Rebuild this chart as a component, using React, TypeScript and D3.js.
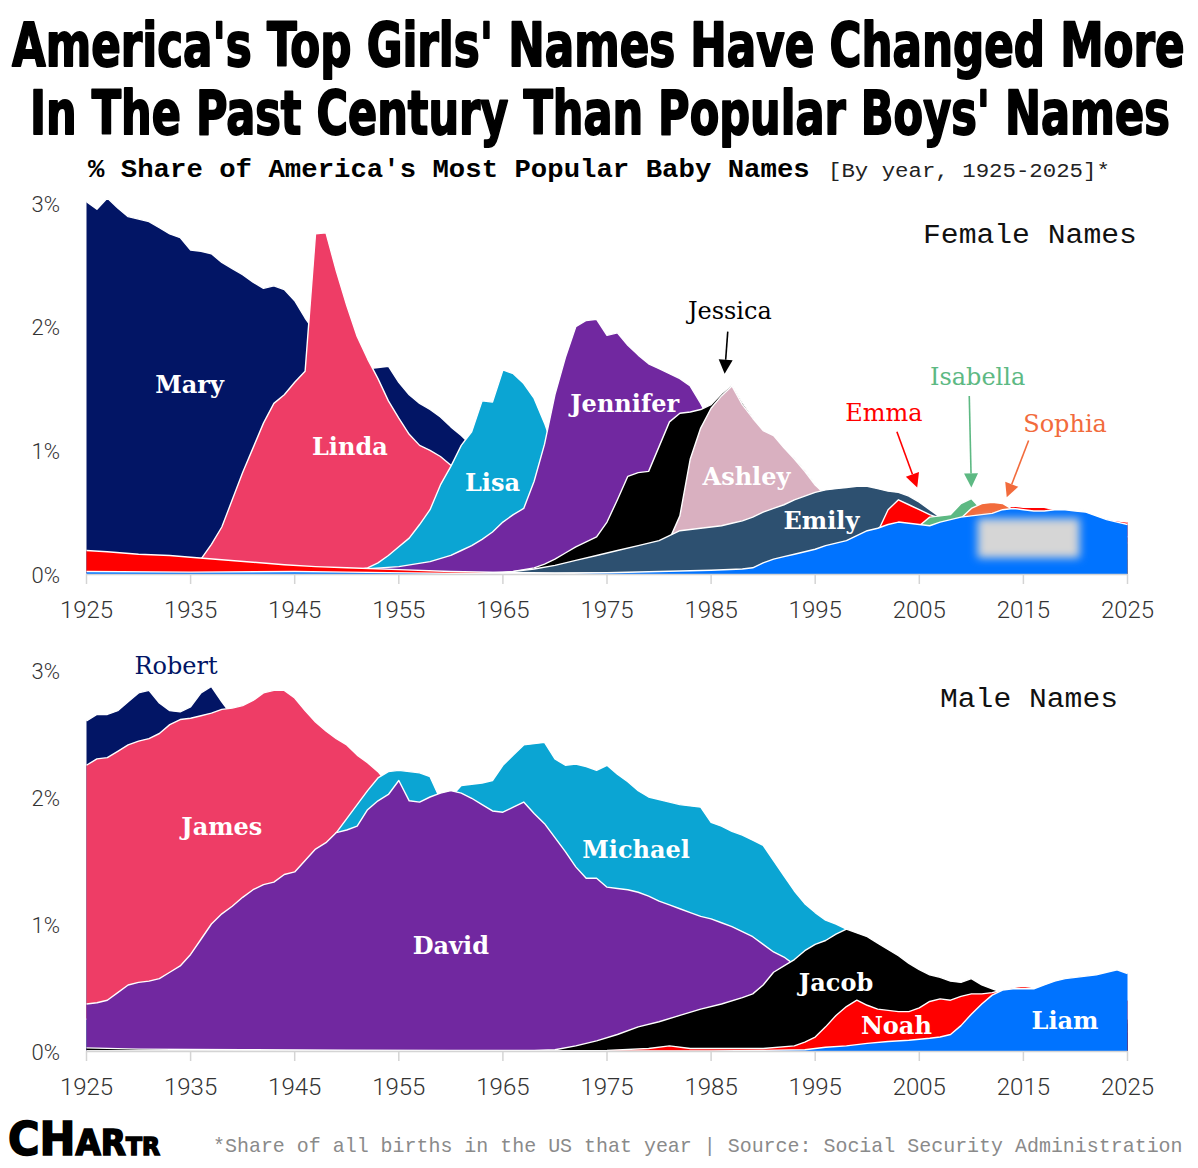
import * as d3 from 'd3';
import React, { useEffect, useRef } from 'react';

type Pt = [number, number];

// ---- axis ticks / text ----
const decades = [1925, 1935, 1945, 1955, 1965, 1975, 1985, 1995, 2005, 2015, 2025];
const pctTicks = [0, 1, 2, 3];
const titleLines = [
  "America's Top Girls' Names Have Changed More",
  "In The Past Century Than Popular Boys' Names",
];
const subtitleBold = "% Share of America's Most Popular Baby Names";
const subtitleLight = "[By year, 1925-2025]*";
const footnote = "*Share of all births in the US that year | Source: Social Security Administration";

// ---- female names, % of all births [year, share] ----
const mary: Pt[] = [[1925,3.01],[1926,2.95],[1927,3.04],[1928,2.96],[1929,2.89],[1930,2.87],[1931,2.85],[1932,2.80],[1933,2.75],[1934,2.72],[1935,2.62],[1936,2.61],[1937,2.59],[1938,2.52],[1939,2.47],[1940,2.42],[1941,2.36],[1942,2.31],[1943,2.33],[1944,2.30],[1945,2.21],[1946,2.07],[1947,1.95],[1948,1.85],[1949,1.78],[1950,1.74],[1951,1.70],[1952,1.66],[1953,1.67],[1954,1.68],[1955,1.55],[1956,1.45],[1957,1.38],[1958,1.33],[1959,1.27],[1960,1.19],[1961,1.12],[1962,1.04],[1963,0.95],[1965,0.8],[1970,0.55],[1975,0.45],[1980,0.38],[1990,0.28],[2000,0.15],[2010,0.1],[2025,0.05]];
const linda: Pt[] = [[1925,0],[1933,0],[1935,0.04],[1936,0.12],[1937,0.24],[1938,0.38],[1939,0.6],[1940,0.82],[1941,1.02],[1942,1.22],[1943,1.38],[1944,1.45],[1945,1.55],[1946,1.64],[1947,2.75],[1948,2.76],[1949,2.45],[1950,2.17],[1951,1.92],[1952,1.74],[1953,1.58],[1954,1.40],[1955,1.26],[1956,1.13],[1957,1.04],[1958,1.0],[1959,0.95],[1960,0.88],[1961,0.78],[1962,0.68],[1963,0.58],[1965,0.42],[1970,0.2],[1980,0.08],[1990,0.04],[2000,0.02],[2025,0.01]];
const lisa: Pt[] = [[1925,0],[1948,0],[1950,0.02],[1952,0.05],[1953,0.09],[1954,0.15],[1955,0.22],[1956,0.29],[1957,0.40],[1958,0.52],[1959,0.72],[1960,0.87],[1961,1.04],[1962,1.15],[1963,1.40],[1964,1.39],[1965,1.65],[1966,1.62],[1967,1.54],[1968,1.42],[1969,1.22],[1970,0.98],[1971,0.75],[1972,0.6],[1975,0.35],[1980,0.18],[1990,0.06],[2000,0.02],[2025,0.01]];
const jennifer: Pt[] = [[1925,0],[1940,0],[1945,0.01],[1950,0.03],[1955,0.06],[1958,0.1],[1960,0.15],[1961,0.19],[1962,0.23],[1963,0.28],[1964,0.34],[1965,0.42],[1966,0.48],[1967,0.53],[1968,0.75],[1969,1.05],[1970,1.45],[1971,1.75],[1972,2.0],[1973,2.05],[1974,2.06],[1975,1.93],[1976,1.95],[1977,1.85],[1978,1.77],[1979,1.70],[1980,1.66],[1981,1.62],[1982,1.58],[1983,1.52],[1984,1.38],[1985,1.22],[1986,1.12],[1987,1.0],[1988,0.9],[1990,0.75],[1995,0.4],[2000,0.25],[2005,0.15],[2010,0.08],[2025,0.03]];
const jessica: Pt[] = [[1925,0],[1962,0],[1966,0.02],[1968,0.05],[1969,0.08],[1970,0.12],[1971,0.17],[1972,0.22],[1973,0.26],[1974,0.30],[1975,0.42],[1976,0.6],[1977,0.79],[1978,0.82],[1979,0.83],[1980,1.03],[1981,1.23],[1982,1.30],[1983,1.31],[1984,1.33],[1985,1.37],[1986,1.46],[1987,1.53],[1988,1.39],[1989,1.27],[1990,1.15],[1991,1.08],[1992,1.0],[1993,0.94],[1994,0.84],[1995,0.73],[1996,0.6],[1997,0.5],[1998,0.42],[2000,0.32],[2005,0.15],[2010,0.07],[2025,0.02]];
const ashley: Pt[] = [[1925,0],[1975,0],[1978,0.05],[1980,0.15],[1981,0.28],[1982,0.47],[1983,0.93],[1984,1.18],[1985,1.34],[1986,1.44],[1987,1.52],[1988,1.37],[1989,1.26],[1990,1.16],[1991,1.12],[1992,1.02],[1993,0.93],[1994,0.83],[1995,0.72],[1996,0.64],[1997,0.56],[1998,0.5],[2000,0.4],[2005,0.25],[2010,0.12],[2015,0.06],[2025,0.03]];
const emily: Pt[] = [[1925,0],[1960,0],[1965,0.01],[1968,0.04],[1970,0.07],[1972,0.11],[1974,0.15],[1976,0.19],[1978,0.23],[1980,0.27],[1981,0.31],[1982,0.35],[1983,0.36],[1984,0.37],[1985,0.38],[1986,0.39],[1987,0.41],[1988,0.43],[1989,0.46],[1990,0.5],[1991,0.53],[1992,0.56],[1993,0.6],[1994,0.63],[1995,0.66],[1996,0.68],[1997,0.69],[1998,0.70],[1999,0.71],[2000,0.71],[2001,0.69],[2002,0.67],[2003,0.66],[2004,0.63],[2005,0.58],[2006,0.52],[2007,0.46],[2008,0.42],[2010,0.35],[2015,0.22],[2020,0.15],[2025,0.12]];
const emma: Pt[] = [[1925,0.19],[1927,0.18],[1930,0.16],[1933,0.15],[1935,0.135],[1938,0.115],[1941,0.095],[1944,0.075],[1947,0.06],[1950,0.05],[1955,0.035],[1960,0.02],[1965,0.012],[1970,0.008],[1980,0.01],[1990,0.03],[1995,0.1],[1998,0.2],[2000,0.28],[2001,0.34],[2002,0.52],[2003,0.6],[2004,0.56],[2005,0.52],[2006,0.48],[2007,0.45],[2008,0.48],[2009,0.5],[2010,0.5],[2011,0.52],[2012,0.52],[2013,0.54],[2014,0.55],[2015,0.54],[2016,0.54],[2017,0.54],[2018,0.52],[2019,0.5],[2020,0.48],[2022,0.45],[2025,0.42]];
const isabella: Pt[] = [[1925,0],[1990,0],[1995,0.02],[2000,0.1],[2003,0.25],[2004,0.33],[2005,0.39],[2006,0.46],[2007,0.47],[2008,0.48],[2009,0.57],[2010,0.61],[2011,0.52],[2012,0.47],[2013,0.43],[2014,0.4],[2015,0.38],[2020,0.3],[2025,0.25]];
const sophia: Pt[] = [[1925,0],[1990,0],[1995,0.02],[2000,0.08],[2005,0.2],[2008,0.38],[2009,0.45],[2010,0.53],[2011,0.57],[2012,0.58],[2013,0.57],[2014,0.52],[2015,0.48],[2016,0.45],[2020,0.36],[2025,0.3]];
const olivia: Pt[] = [[1925,0.02],[1935,0.015],[1945,0.02],[1950,0.015],[1960,0.005],[1970,0.004],[1975,0.01],[1980,0.02],[1985,0.03],[1988,0.04],[1989,0.05],[1990,0.09],[1991,0.12],[1992,0.14],[1993,0.16],[1994,0.18],[1995,0.2],[1996,0.23],[1997,0.25],[1998,0.27],[1999,0.31],[2000,0.35],[2001,0.37],[2002,0.4],[2003,0.42],[2004,0.41],[2005,0.4],[2006,0.39],[2007,0.42],[2008,0.44],[2009,0.46],[2010,0.47],[2011,0.48],[2012,0.49],[2013,0.52],[2014,0.53],[2015,0.52],[2016,0.51],[2017,0.51],[2018,0.52],[2019,0.52],[2020,0.51],[2021,0.5],[2022,0.47],[2023,0.44],[2024,0.42],[2025,0.40]];

// ---- male names ----
const robert: Pt[] = [[1925,2.60],[1926,2.65],[1927,2.65],[1928,2.68],[1929,2.75],[1930,2.82],[1931,2.84],[1932,2.74],[1933,2.68],[1934,2.67],[1935,2.71],[1936,2.82],[1937,2.87],[1938,2.75],[1939,2.64],[1940,2.58],[1945,2.42],[1950,2.2],[1953,2.05],[1955,1.9],[1960,1.7],[1965,1.4],[1970,1.05],[1975,0.8],[1980,0.62],[1985,0.5],[1990,0.4],[1995,0.3],[2000,0.2],[2010,0.1],[2025,0.05]];
const james: Pt[] = [[1925,2.25],[1926,2.30],[1927,2.31],[1928,2.36],[1929,2.41],[1930,2.44],[1931,2.46],[1932,2.50],[1933,2.57],[1934,2.61],[1935,2.62],[1936,2.64],[1937,2.66],[1938,2.69],[1939,2.70],[1940,2.72],[1941,2.76],[1942,2.82],[1943,2.84],[1944,2.84],[1945,2.78],[1946,2.68],[1947,2.59],[1948,2.52],[1949,2.46],[1950,2.41],[1951,2.33],[1952,2.27],[1953,2.2],[1954,2.1],[1955,2.0],[1956,1.9],[1960,1.6],[1965,1.3],[1970,1.0],[1975,0.8],[1980,0.7],[1985,0.65],[1990,0.55],[1995,0.45],[2000,0.35],[2010,0.28],[2025,0.22]];
const michael: Pt[] = [[1925,0.25],[1930,0.3],[1935,0.5],[1940,0.8],[1945,1.2],[1947,1.45],[1948,1.6],[1949,1.72],[1950,1.83],[1951,1.94],[1952,2.05],[1953,2.15],[1954,2.2],[1955,2.21],[1956,2.2],[1957,2.19],[1958,2.16],[1959,1.98],[1960,2.0],[1961,2.09],[1962,2.1],[1963,2.11],[1964,2.13],[1965,2.25],[1966,2.33],[1967,2.41],[1968,2.42],[1969,2.43],[1970,2.30],[1971,2.25],[1972,2.26],[1973,2.24],[1974,2.21],[1975,2.25],[1976,2.18],[1977,2.12],[1978,2.05],[1979,2.0],[1980,1.98],[1981,1.96],[1982,1.94],[1983,1.93],[1984,1.92],[1985,1.80],[1986,1.77],[1987,1.73],[1988,1.70],[1989,1.66],[1990,1.62],[1991,1.5],[1992,1.38],[1993,1.26],[1994,1.16],[1995,1.09],[1996,1.03],[1997,1.0],[1998,0.96],[1999,0.9],[2000,0.85],[2005,0.6],[2010,0.42],[2015,0.3],[2020,0.25],[2025,0.22]];
const david: Pt[] = [[1925,0.37],[1926,0.38],[1927,0.40],[1928,0.46],[1929,0.52],[1930,0.54],[1931,0.55],[1932,0.57],[1933,0.62],[1934,0.67],[1935,0.76],[1936,0.88],[1937,1.0],[1938,1.08],[1939,1.14],[1940,1.21],[1941,1.27],[1942,1.31],[1943,1.33],[1944,1.39],[1945,1.41],[1946,1.50],[1947,1.59],[1948,1.64],[1949,1.72],[1950,1.74],[1951,1.77],[1952,1.9],[1953,1.97],[1954,2.02],[1955,2.13],[1956,1.97],[1957,1.96],[1958,2.0],[1959,2.03],[1960,2.05],[1961,2.03],[1962,1.99],[1963,1.94],[1964,1.89],[1965,1.88],[1966,1.92],[1967,1.96],[1968,1.87],[1969,1.79],[1970,1.68],[1971,1.57],[1972,1.45],[1973,1.36],[1974,1.36],[1975,1.29],[1976,1.28],[1977,1.27],[1978,1.25],[1979,1.22],[1980,1.18],[1981,1.15],[1982,1.12],[1983,1.09],[1984,1.06],[1985,1.04],[1986,1.01],[1987,0.98],[1988,0.94],[1989,0.9],[1990,0.84],[1991,0.78],[1992,0.74],[1993,0.68],[1994,0.62],[1995,0.55],[2000,0.4],[2005,0.3],[2010,0.25],[2015,0.2],[2025,0.15]];
const jacob: Pt[] = [[1925,0.025],[1930,0.015],[1940,0.01],[1950,0.006],[1960,0.005],[1968,0.005],[1970,0.01],[1972,0.04],[1974,0.08],[1976,0.13],[1978,0.19],[1980,0.23],[1982,0.28],[1984,0.33],[1986,0.37],[1988,0.42],[1989,0.45],[1990,0.52],[1991,0.62],[1992,0.67],[1993,0.72],[1994,0.79],[1995,0.84],[1996,0.87],[1997,0.92],[1998,0.96],[1999,0.93],[2000,0.90],[2001,0.85],[2002,0.80],[2003,0.75],[2004,0.69],[2005,0.64],[2006,0.60],[2007,0.58],[2008,0.55],[2009,0.54],[2010,0.57],[2011,0.52],[2012,0.49],[2013,0.46],[2014,0.42],[2015,0.4],[2020,0.3],[2025,0.25]];
const noah: Pt[] = [[1925,0],[1970,0],[1975,0.005],[1979,0.02],[1981,0.04],[1983,0.02],[1985,0.02],[1990,0.02],[1993,0.04],[1994,0.07],[1995,0.11],[1996,0.19],[1997,0.28],[1998,0.35],[1999,0.40],[2000,0.36],[2001,0.33],[2002,0.32],[2003,0.31],[2004,0.31],[2005,0.34],[2006,0.39],[2007,0.41],[2008,0.40],[2009,0.43],[2010,0.45],[2011,0.45],[2012,0.46],[2013,0.48],[2014,0.5],[2015,0.51],[2016,0.5],[2017,0.48],[2018,0.46],[2019,0.46],[2020,0.46],[2021,0.45],[2022,0.44],[2023,0.43],[2024,0.42],[2025,0.4]];
const liam: Pt[] = [[1925,0],[1985,0],[1990,0.005],[1994,0.01],[1996,0.03],[1998,0.04],[2000,0.06],[2002,0.075],[2004,0.085],[2006,0.1],[2007,0.11],[2008,0.13],[2009,0.2],[2010,0.29],[2011,0.37],[2012,0.44],[2013,0.48],[2014,0.49],[2015,0.49],[2016,0.49],[2017,0.52],[2018,0.55],[2019,0.57],[2020,0.58],[2021,0.59],[2022,0.6],[2023,0.62],[2024,0.64],[2025,0.61]];

// draw order = bottom to top
const femaleSeries = [
  { name: 'Mary', color: '#021565', data: mary },
  { name: 'Linda', color: '#EE3D66', data: linda },
  { name: 'Lisa', color: '#0BA5D3', data: lisa },
  { name: 'Jennifer', color: '#7128A0', data: jennifer },
  { name: 'Jessica', color: '#000000', data: jessica },
  { name: 'Ashley', color: '#D9B0C0', data: ashley },
  { name: 'Emily', color: '#2D5070', data: emily },
  { name: 'Emma', color: '#FF0000', data: emma },
  { name: 'Isabella', color: '#5DB983', data: isabella },
  { name: 'Sophia', color: '#F26B3C', data: sophia },
  { name: 'Olivia', color: '#0073FF', data: olivia },
];
const maleSeries = [
  { name: 'Robert', color: '#021565', data: robert },
  { name: 'James', color: '#EE3D66', data: james },
  { name: 'Michael', color: '#0BA5D3', data: michael },
  { name: 'David', color: '#7128A0', data: david },
  { name: 'Jacob', color: '#000000', data: jacob },
  { name: 'Noah', color: '#FF0000', data: noah },
  { name: 'Liam', color: '#0073FF', data: liam },
];

// label anchors in [year, share]
const femaleLabels = [
  { text: 'Mary', at: [1934.9, 1.53] },
  { text: 'Linda', at: [1950.3, 1.03] },
  { text: 'Lisa', at: [1964.0, 0.74] },
  { text: 'Jennifer', at: [1976.7, 1.38] },
  { text: 'Ashley', at: [1988.4, 0.79] },
  { text: 'Emily', at: [1995.6, 0.43] },
];
const femaleCallouts = [
  { text: 'Jessica', color: '#000000', at: [1986.8, 2.13], from: [1986.6, 1.96], to: [1986.3, 1.62] },
  { text: 'Emma', color: '#FF0000', at: [2001.6, 1.30], from: [2002.85, 1.15], to: [2004.8, 0.70] },
  { text: 'Isabella', color: '#5DB983', at: [2010.6, 1.59], from: [2009.8, 1.44], to: [2010.0, 0.70] },
  { text: 'Sophia', color: '#F26B3C', at: [2019.0, 1.21], from: [2015.5, 1.08], to: [2013.4, 0.62] },
];
const maleLabels = [
  { text: 'James', at: [1938.0, 1.77] },
  { text: 'David', at: [1960.0, 0.83] },
  { text: 'Michael', at: [1977.8, 1.59] },
  { text: 'Jacob', at: [1997.0, 0.54] },
  { text: 'Noah', at: [2002.8, 0.20] },
  { text: 'Liam', at: [2019.0, 0.24] },
];
const maleCallouts = [
  { text: 'Robert', color: '#021565', at: [1933.6, 3.03] },
];

const SERIF = '"DejaVu Serif", "Liberation Serif", serif';
const MONO = '"Liberation Mono", "DejaVu Sans Mono", monospace';
const SANS = 'Roboto, "Liberation Sans", sans-serif';
const NARROW = '"Liberation Sans Narrow", "DejaVu Sans Condensed", sans-serif';

// squeeze/stretch a text horizontally so it spans exactly `w` pixels
const fitWidth = (sel, x0, y0, w) => {
  const natural = sel.node().getComputedTextLength() || w;
  sel.attr('x', 0).attr('y', 0)
    .attr('transform', `translate(${x0},${y0}) scale(${w / natural},1)`);
};

const App = () => {
  const chartRef = useRef<SVGSVGElement>(null);

  useEffect(() => {
    document.body.style.margin = '0';
    const svg = d3.select(chartRef.current);
    svg.selectAll('*').remove();

    const defs = svg.append('defs');
    defs.append('filter').attr('id', 'blurbox')
      .attr('x', '-30%').attr('y', '-30%').attr('width', '160%').attr('height', '160%')
      .append('feGaussianBlur').attr('stdDeviation', 4);

    // title
    const titleX = [12, 30];
    const titleW = [1173, 1140];
    const titleY = [66, 134];
    titleLines.forEach((t, i) => {
      const tt = svg.append('text')
        .style('font-family', NARROW).style('font-weight', 700).style('font-size', '60px')
        .attr('fill', '#000').attr('stroke', '#000').attr('stroke-width', 1.8)
        .attr('stroke-linejoin', 'round')
        .text(t);
      fitWidth(tt, titleX[i], titleY[i], titleW[i]);
    });
    const sb = svg.append('text')
      .style('font-family', MONO).style('font-weight', 700).style('font-size', '25px')
      .text(subtitleBold);
    fitWidth(sb, 88, 177, 722);
    const sl = svg.append('text')
      .style('font-family', MONO).style('font-size', '21px').attr('fill', '#222')
      .text(subtitleLight);
    fitWidth(sl, 828, 177, 282);

    const x = d3.scaleLinear().domain([1925, 2025]).range([86.5, 1127.5]);

    const drawPanel = (series, y, labels, callouts, panelName, namePos, nameW) => {
      const g = svg.append('g');
      const base = y(0);
      const area = d3.area<Pt>().x(d => x(d[0])).y0(base).y1(d => y(d[1]));
      const line = d3.line<Pt>().x(d => x(d[0])).y(d => y(d[1]));

      series.forEach(s => {
        g.append('path').attr('d', area(s.data)).attr('fill', s.color);
        g.append('path').attr('d', line(s.data)).attr('fill', 'none')
          .attr('stroke', '#fff').attr('stroke-width', 1.4).attr('stroke-linejoin', 'round');
      });

      // axis
      g.append('line').attr('x1', x(1925)).attr('x2', x(2025))
        .attr('y1', base + 0.5).attr('y2', base + 0.5).attr('stroke', '#d4d4d4').attr('stroke-width', 1.5);
      decades.forEach(d => {
        g.append('line').attr('x1', x(d)).attr('x2', x(d)).attr('y1', base).attr('y2', base + 10)
          .attr('stroke', '#d4d4d4').attr('stroke-width', 1.5);
        g.append('text').attr('x', x(d)).attr('y', base + 36)
          .attr('text-anchor', 'middle').attr('dominant-baseline', 'central')
          .style('font-family', SANS).style('font-weight', 300).style('font-size', '24px').attr('fill', '#333')
          .text(d);
      });
      pctTicks.forEach(p => {
        g.append('text').attr('x', 60).attr('y', y(p) + 1)
          .attr('text-anchor', 'end').attr('dominant-baseline', 'central')
          .style('font-family', SANS).style('font-weight', 300).style('font-size', '22px').attr('fill', '#333')
          .text(p + '%');
      });

      labels.forEach(l => {
        g.append('text').attr('x', x(l.at[0])).attr('y', y(l.at[1]))
          .attr('text-anchor', 'middle').attr('dominant-baseline', 'central')
          .style('font-family', SERIF).style('font-weight', 700).style('font-size', '24px')
          .attr('fill', '#fff').text(l.text);
      });

      callouts.forEach(c => {
        g.append('text').attr('x', x(c.at[0])).attr('y', y(c.at[1]))
          .attr('text-anchor', 'middle').attr('dominant-baseline', 'central')
          .style('font-family', SERIF).style('font-size', '24px')
          .attr('fill', c.color).text(c.text);
        if (c.from) {
          const x1 = x(c.from[0]), y1 = y(c.from[1]);
          const x2 = x(c.to[0]), y2 = y(c.to[1]);
          const ang = Math.atan2(y2 - y1, x2 - x1);
          const hl = 14, hw = 7;
          const bx = x2 - hl * Math.cos(ang), by = y2 - hl * Math.sin(ang);
          g.append('line').attr('x1', x1).attr('y1', y1).attr('x2', bx).attr('y2', by)
            .attr('stroke', c.color).attr('stroke-width', 1.6);
          const px = -Math.sin(ang) * hw, py = Math.cos(ang) * hw;
          g.append('path')
            .attr('d', `M${x2},${y2}L${bx + px},${by + py}L${bx - px},${by - py}Z`)
            .attr('fill', c.color);
        }
      });

      const pn = g.append('text')
        .attr('dominant-baseline', 'central')
        .style('font-family', MONO).style('font-size', '27px').attr('fill', '#111')
        .text(panelName);
      fitWidth(pn, namePos[0], namePos[1], nameW);
      return g;
    };

    const yTop = d3.scaleLinear().domain([0, 3]).range([574, 203]);
    const gTop = drawPanel(femaleSeries, yTop, femaleLabels, femaleCallouts, 'Female Names', [923, 236], 214);
    // redaction box over the blue series label
    gTop.append('rect')
      .attr('x', x(2010.6)).attr('y', yTop(0.45))
      .attr('width', x(2020.4) - x(2010.6)).attr('height', yTop(0.13) - yTop(0.45))
      .attr('fill', '#d6d6d6').attr('filter', 'url(#blurbox)');

    const yBot = d3.scaleLinear().domain([0, 3]).range([1051, 670]);
    drawPanel(maleSeries, yBot, maleLabels, maleCallouts, 'Male Names', [940, 700], 178);

    // footer
    const logo = svg.append('text')
      .style('font-family', NARROW).style('font-weight', 700)
      .attr('fill', '#000').attr('stroke', '#000').attr('stroke-width', 1.5);
    logo.append('tspan').style('font-size', '46px').text('CH');
    logo.append('tspan').style('font-size', '35px').text('AR');
    logo.append('tspan').style('font-size', '25px').text('TR');
    fitWidth(logo, 8, 1155, 152);

    const fn = svg.append('text')
      .style('font-family', MONO).style('font-size', '20px').attr('fill', '#8a8a8a')
      .text(footnote);
    fitWidth(fn, 213, 1152, 970);
  }, []);

  return (
    <svg ref={chartRef} width={1198} height={1168} style={{ display: 'block', background: '#fff' }} />
  );
};

export default App;
